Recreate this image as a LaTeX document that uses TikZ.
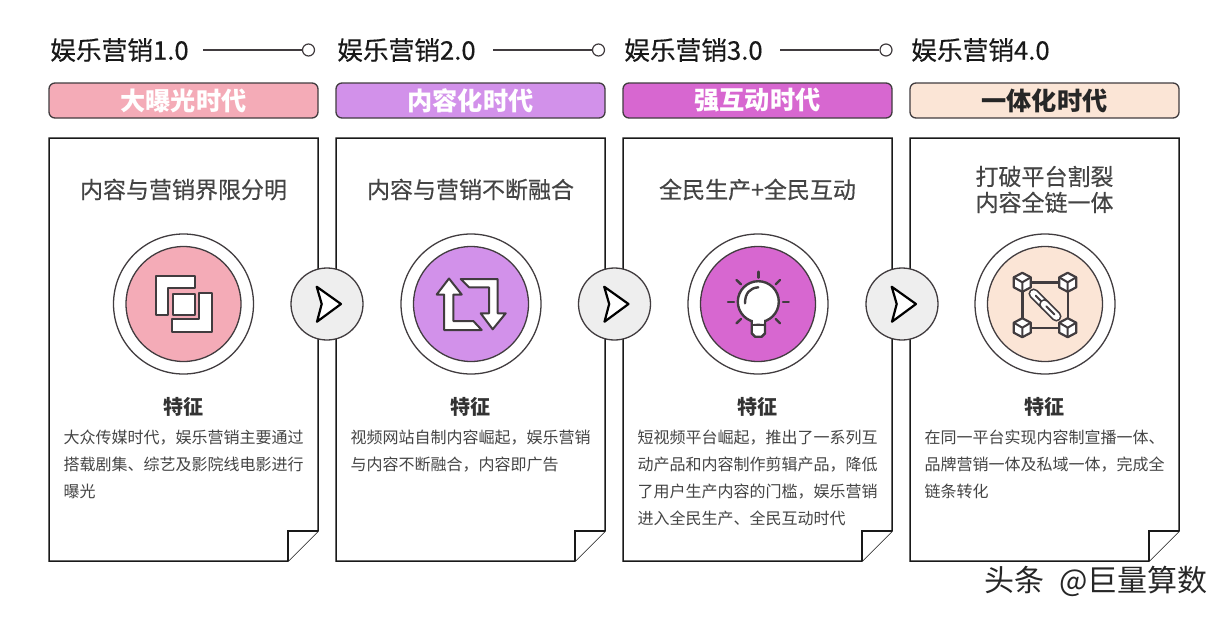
\documentclass[tikz,border=0pt]{standalone}
\usepackage{fontspec}
\setmainfont{Noto Sans CJK SC}
\newfontfamily\medfont[FakeBold=0.4]{Noto Sans CJK SC}
\definecolor{linegray}{HTML}{413C3F}
\definecolor{textgray}{HTML}{444444}
\definecolor{pinkfill}{HTML}{F4ABB7}
\definecolor{purplefill}{HTML}{D291EA}
\definecolor{magentafill}{HTML}{D767D0}
\definecolor{peachfill}{HTML}{FBE5D6}
\definecolor{knobfill}{HTML}{EEEEEE}
\tikzset{
    headtext/.style={inner sep=0pt, anchor=west, text=black!90, font=\medfont\fontsize{25.7}{28}\selectfont},
    headline/.style={linegray, line width=1.2pt},
    headdot/.style={circle, draw=linegray, fill=white, line width=1.2pt, minimum size=12pt, inner sep=0pt},
    erabar/.style={draw=linegray, line width=1.3pt, rounded corners=6pt, minimum width=269pt, minimum height=35pt, inner sep=0pt, font=\bfseries\fontsize{25.2}{28}\selectfont},
    paper/.style={draw=black!90, fill=white, line width=1.5pt, line join=miter},
    cardtitle/.style={inner sep=0pt, align=center, text=textgray, font=\medfont\fontsize{23}{26}\selectfont},
    ringout/.style={circle, draw=linegray, fill=white, line width=1.3pt, minimum size=140pt, inner sep=0pt},
    ringin/.style={circle, draw=linegray, line width=1.3pt, minimum size=115pt, inner sep=0pt},
    feature/.style={inner sep=0pt, font=\bfseries\fontsize{20}{22}\selectfont, text=black!80},
    bodytext/.style={inner sep=0pt, anchor=north west, align=left, text=textgray, font=\fontsize{16}{27}\selectfont},
    knob/.style={circle, draw=linegray, fill=knobfill, line width=1.3pt, minimum size=72pt, inner sep=0pt},
    iconline/.style={draw=linegray, fill=white, line width=2pt, line join=round},
    rayline/.style={linegray, line width=2.4pt, line cap=round},
}
\newcommand{\arrowglyph}[2]{\draw[black, fill=white, line width=2.2pt, line join=round] (#1-10.3,#2-17.3) -- (#1+14,#2) -- (#1-10,#2+17.7) -- (#1-5.3,#2) -- cycle;}
\newcommand{\cubeglyph}[2]{
    \draw[iconline, line width=2.2pt] (#1,#2-9.5) -- (#1+8.5,#2-5) -- (#1+8.5,#2+5) -- (#1,#2+9.5) -- (#1-8.5,#2+5) -- (#1-8.5,#2-5) -- cycle;
    \draw[linegray, line width=2pt] (#1-8.5,#2-5) -- (#1,#2) -- (#1+8.5,#2-5) (#1,#2) -- (#1,#2+9.5);
}
\newcommand{\linkglyph}[2]{
    \draw[linegray, line width=10.5pt, line cap=round] (#1-6,#2-6) -- (#1+6,#2+6);
    \draw[white, line width=7pt, line cap=round] (#1-6,#2-6) -- (#1+6,#2+6);
    \draw[linegray, line width=2pt, line cap=round] (#1-4,#2-4) -- (#1+4,#2+4);
}
\begin{document}
\begin{tikzpicture}[x=1pt,y=-1pt]
    \useasboundingbox (0,0) rectangle (1226,616);

    % headings
    \node[headtext] (head1) at (50,50) {娱乐营销1.0};
    \node[headtext] (head2) at (337,50) {娱乐营销2.0};
    \node[headtext] (head3) at (624,50) {娱乐营销3.0};
    \node[headtext] (head4) at (911,50) {娱乐营销4.0};
    \coordinate (line1) at (203,50);
    \coordinate (line2) at (493,50);
    \coordinate (line3) at (780,50);
    \node[headdot] (dot1) at (308.5,50) {};
    \node[headdot] (dot2) at (598.5,50) {};
    \node[headdot] (dot3) at (886,50) {};
    \draw[headline] (line1) -- (dot1);
    \draw[headline] (line2) -- (dot2);
    \draw[headline] (line3) -- (dot3);

    % era bars
    \node[erabar, fill=pinkfill, text=white] (era1) at (183.5,100.5) {大曝光时代};
    \node[erabar, fill=purplefill, text=white] (era2) at (470.5,100.5) {内容化时代};
    \node[erabar, fill=magentafill, text=white] (era3) at (757.5,100.5) {强互动时代};
    \node[erabar, fill=peachfill, text=black!85] (era4) at (1044.5,100.5) {一体化时代};

    % cards
    \draw[paper] (49,138) -- (318,138) -- (318,531) -- (288,561) -- (49,561) -- cycle;
    \draw[paper] (288,561) -- (288,531) -- (318,531);
    \draw[paper] (336,138) -- (605,138) -- (605,531) -- (575,561) -- (336,561) -- cycle;
    \draw[paper] (575,561) -- (575,531) -- (605,531);
    \draw[paper] (623,138) -- (892,138) -- (892,531) -- (862,561) -- (623,561) -- cycle;
    \draw[paper] (862,561) -- (862,531) -- (892,531);
    \draw[paper] (910,138) -- (1179,138) -- (1179,531) -- (1149,561) -- (910,561) -- cycle;
    \draw[paper] (1149,561) -- (1149,531) -- (1179,531);

    \node[cardtitle] (title1) at (183.5,189.5) {内容与营销界限分明};
    \node[cardtitle] (title2) at (470.5,189.5) {内容与营销不断融合};
    \node[cardtitle] (title3) at (757.5,189.5) {全民生产+全民互动};
    \node[cardtitle] (title4) at (1044.5,189.5) {打破平台割裂\\内容全链一体};

    % rings
    \node[ringout] (outer1) at (183.5,304) {};
    \node[ringin, fill=pinkfill] (inner1) at (183.5,304) {};
    \node[ringout] (outer2) at (471,304) {};
    \node[ringin, fill=purplefill] (inner2) at (471,304) {};
    \node[ringout] (outer3) at (758,304) {};
    \node[ringin, fill=magentafill] (inner3) at (758,304) {};
    \node[ringout] (outer4) at (1045,304) {};
    \node[ringin, fill=peachfill] (inner4) at (1045,304) {};

    % icon 1
    \draw[iconline] (155.7,276) -- (195,276) -- (195,288.3) -- (168.3,288.3) -- (168.3,315) -- (155.7,315) -- cycle;
    \draw[iconline] (199,293.3) -- (211.7,293.3) -- (211.7,331.7) -- (172.3,331.7) -- (172.3,319.3) -- (199,319.3) -- cycle;
    \draw[iconline] (173.3,294) rectangle (195,315);

    % icon 2
    \draw[iconline] (449,278.5) -- (436.7,294.5) -- (444,294.5) -- (444,330) -- (481.7,330) -- (473.3,321) -- (453.3,321) -- (453.3,294.5) -- (461.7,294.5) -- cycle;
    \draw[iconline] (460.7,279) -- (497.7,279) -- (497.7,313.3) -- (505.7,313.3) -- (492.7,329.3) -- (480.7,313.3) -- (489,313.3) -- (489,287.3) -- (469,287.3) -- cycle;

    % icon 3
    \draw[iconline, line width=2.4pt] (751.7,320) -- (751.7,333.3) -- (755,336.7) -- (761.7,336.7) -- (765,333.3) -- (765,320) -- cycle;
    \draw[iconline, line width=2.4pt] (758.3,301.7) circle (20.5);
    \fill[white] (753,318) rectangle (764,323);
    \draw[rayline] (752.7,325) -- (764,325);
    \draw[rayline] (745,303.3) .. controls (745,293) and (750,288) .. (758.3,287.3);
    \draw[rayline] (758.3,271.7) -- (758.3,277.7);
    \draw[rayline] (728,301.7) -- (734,301.7);
    \draw[rayline] (783,301.7) -- (788.7,301.7);
    \draw[rayline] (736.5,280) -- (741,284.3);
    \draw[rayline] (780,280) -- (775.7,284.3);
    \draw[rayline] (736.5,323.3) -- (741,319);
    \draw[rayline] (780,323.3) -- (775.7,319);

    % icon 4
    \draw[linegray, line width=2.4pt] (1022.3,282.3) rectangle (1067.7,327.7);
    \cubeglyph{1022.3}{282.3}
    \cubeglyph{1067.7}{282.3}
    \cubeglyph{1022.3}{327.7}
    \cubeglyph{1067.7}{327.7}
    \linkglyph{1039.7}{299.7}
    \linkglyph{1050.3}{310.3}

    % knobs
    \node[knob] (knob1) at (327,304) {};
    \node[knob] (knob2) at (614.5,304) {};
    \node[knob] (knob3) at (902,304) {};
    \arrowglyph{327}{304}
    \arrowglyph{614.5}{304}
    \arrowglyph{902}{304}

    % features
    \node[feature] (feat1) at (183.5,407) {特征};
    \node[feature] (feat2) at (470.5,407) {特征};
    \node[feature] (feat3) at (757.5,407) {特征};
    \node[feature] (feat4) at (1044.5,407) {特征};

    \node[bodytext] (body1) at (63.5,430) {大众传媒时代，娱乐营销主要通过\\搭载剧集、综艺及影院线电影进行\\曝光};
    \node[bodytext] (body2) at (350.5,430) {视频网站自制内容崛起，娱乐营销\\与内容不断融合，内容即广告};
    \node[bodytext] (body3) at (637.5,430) {短视频平台崛起，推出了一系列互\\动产品和内容制作剪辑产品，降低\\了用户生产内容的门槛，娱乐营销\\进入全民生产、全民互动时代};
    \node[bodytext] (body4) at (924.5,430) {在同一平台实现内容制宣播一体、\\品牌营销一体及私域一体，完成全\\链条转化};

    \node[inner sep=0pt, anchor=east, text=black!85, font=\fontsize{30}{32}\selectfont] (mark) at (1208,581) {头条\hspace{8pt} @巨量算数};
\end{tikzpicture}
\end{document}
